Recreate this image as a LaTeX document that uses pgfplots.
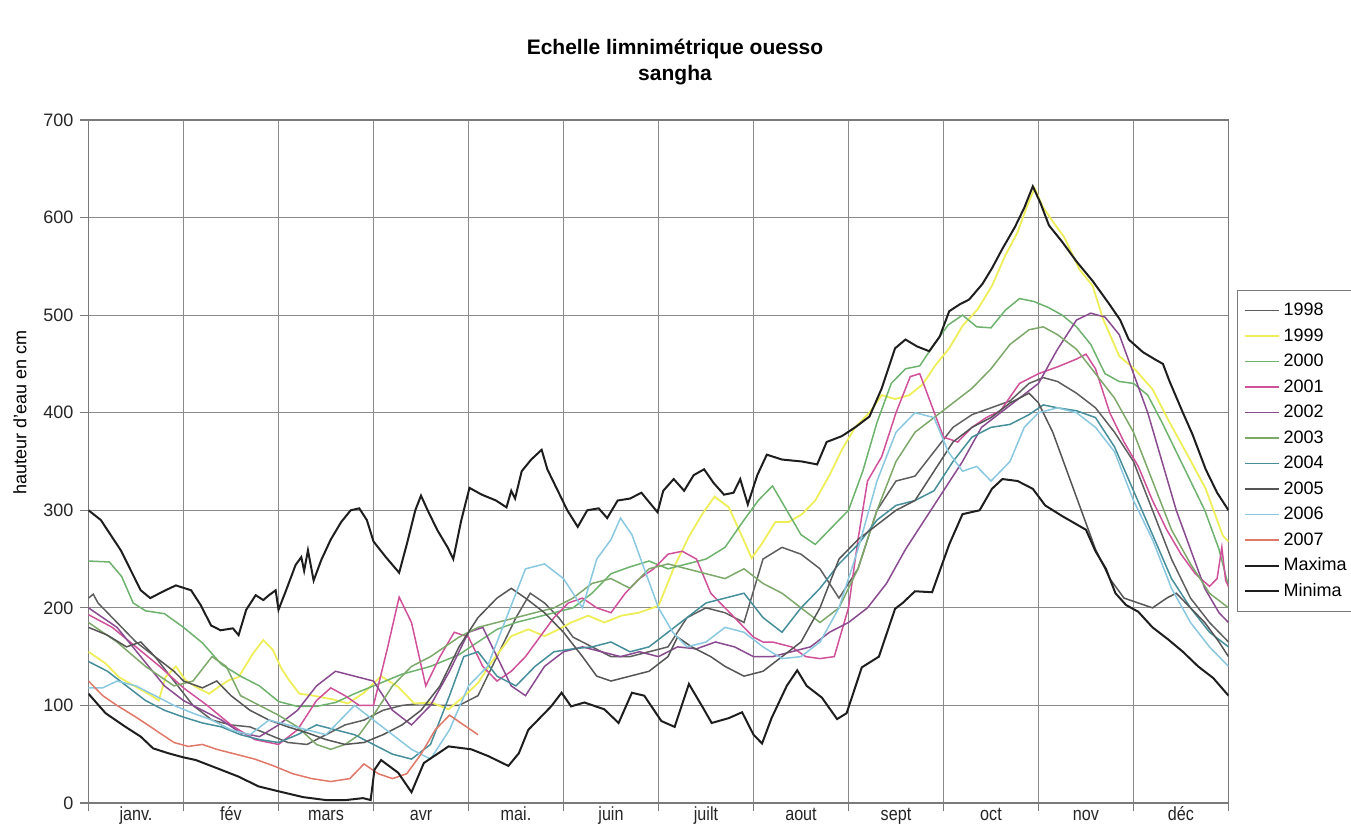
\documentclass[border=0pt]{standalone}
\usepackage{fontspec}
\setmainfont{Liberation Sans}
\newfontfamily\narrowfont[FakeStretch=0.85]{Liberation Sans}
\usepackage{pgfplots}
\pgfplotsset{compat=1.18}
\definecolor{gridgray}{HTML}{8A8A8A}
\definecolor{axisgray}{HTML}{7A7A7A}
\definecolor{c1998}{HTML}{5E5E5E}
\definecolor{c1999}{HTML}{EEEE5A}
\definecolor{c2000}{HTML}{6DB26D}
\definecolor{c2001}{HTML}{D0509A}
\definecolor{c2002}{HTML}{8A4A90}
\definecolor{c2003}{HTML}{7DA86A}
\definecolor{c2004}{HTML}{468E9A}
\definecolor{c2005}{HTML}{555555}
\definecolor{c2006}{HTML}{8AC8E0}
\definecolor{c2007}{HTML}{E07868}
\definecolor{cmax}{HTML}{1E1E1E}
\begin{document}
\begin{tikzpicture}
\path[use as bounding box] (0,0) rectangle (675.5pt,415pt);
\begin{axis}[
  at={(44.25pt,13.5pt)}, anchor=south west,
  width=570pt, height=341.5pt, scale only axis,
  xmin=0, xmax=12, ymin=0, ymax=700,
  xtick={0,1,...,12},
  xticklabels={},
  extra x ticks={0.5,1.5,...,11.5},
  extra x tick labels={janv.,fév,mars,avr,mai.,juin,juilt,aout,sept,oct,nov,déc},
  extra x tick style={grid=none, major tick length=0pt},
  ytick={0,100,...,700},
  tick align=outside,
  xtick pos=bottom, ytick pos=left,
  major tick length=4pt,
  xmajorgrids=true, ymajorgrids=true,
  major grid style={draw=gridgray, line width=0.55pt},
  axis line style={draw=axisgray, line width=0.8pt},
  tick style={draw=axisgray, line width=0.6pt},
  x tick label style={font=\narrowfont\fontsize{9.5}{11}\selectfont, text=black!85, inner sep=1.5pt, text height=7pt, text depth=2pt},
  y tick label style={font=\fontsize{9}{10}\selectfont, text=black!85},
  /pgf/number format/assume math mode=true,
  ylabel={hauteur d'eau en cm},
  ylabel style={at={(axis description cs:-0.0601,0.572)}, anchor=center, font=\fontsize{9}{10}\selectfont},
  legend style={at={(1.0075,0.751)}, anchor=north west, draw=axisgray, line width=0.5pt,
    font=\fontsize{9}{10}\selectfont, row sep=0.75pt, inner ysep=4pt,
    nodes={text height=6.5pt, text depth=1.5pt, inner sep=2pt}},
  legend cell align=left,
]
% 1998
\addplot[c1998, line width=0.75pt] coordinates {
(0,210) (0.05,214) (0.1,205) (0.3,185) (0.5,165) (0.7,150) (0.9,125) (1.1,100) (1.3,85) (1.5,80) (1.7,78) (1.9,70) (2.1,62) (2.3,60) (2.5,70) (2.7,80) (2.9,85) (3.1,95) (3.3,100) (3.5,102) (3.7,100) (3.9,100) (4.1,110) (4.3,150) (4.5,190) (4.65,215) (4.8,205) (4.95,190) (5.1,170) (5.3,160) (5.5,150) (5.7,150) (5.9,155) (6.1,160) (6.3,190) (6.5,200) (6.7,195) (6.9,185) (7.1,250) (7.3,262) (7.5,255) (7.7,240) (7.9,210) (8.1,240) (8.3,300) (8.5,330) (8.7,335) (8.9,360) (9.1,385) (9.3,398) (9.5,405) (9.7,412) (9.9,430) (10.05,436) (10.2,432) (10.4,420) (10.6,405) (10.8,380) (11.0,350) (11.2,300) (11.4,250) (11.6,210) (11.8,185) (12,165)
};
\addlegendentry{1998}
% 1999
\addplot[c1999, line width=0.9pt] coordinates {
(0,155) (0.18,143) (0.32,129) (0.50,119) (0.68,109) (0.74,105) (0.81,129) (0.92,140) (1.02,126) (1.13,119) (1.27,112) (1.37,119) (1.48,126) (1.58,129) (1.73,153) (1.84,167) (1.94,157) (2.03,138) (2.11,126) (2.22,112) (2.37,110) (2.58,106) (2.73,102) (2.90,113) (3.08,130) (3.26,119) (3.43,102) (3.61,103) (3.79,96) (3.96,110) (4.10,123) (4.24,144) (4.45,171) (4.63,178) (4.80,171) (4.95,178) (5.08,185) (5.26,192) (5.43,185) (5.61,192) (5.79,195) (6.00,202) (6.17,243) (6.32,273) (6.46,296) (6.59,314) (6.74,303) (6.88,273) (6.98,251) (7.09,266) (7.23,288) (7.37,288) (7.51,296) (7.65,310) (7.80,336) (7.93,362) (8.07,385) (8.22,400) (8.35,418) (8.49,414) (8.64,418) (8.78,429) (8.91,448) (9.06,466) (9.20,489) (9.36,506) (9.51,530) (9.65,561) (9.78,585) (9.88,612) (9.96,630) (10.04,612) (10.15,596) (10.27,580) (10.43,547) (10.57,530) (10.68,496) (10.85,458) (11.02,444) (11.20,424) (11.38,390) (11.55,360) (11.76,322) (11.94,274) (12,268)
};
\addlegendentry{1999}
% 2000
\addplot[c2000, line width=0.75pt] coordinates {
(0,248) (0.22,247) (0.35,232) (0.47,205) (0.6,197) (0.8,194) (1.0,180) (1.2,164) (1.4,142) (1.6,130) (1.8,120) (2.0,104) (2.2,99) (2.4,99) (2.6,103) (2.8,112) (3.0,120) (3.3,132) (3.6,140) (3.9,152) (4.1,165) (4.3,178) (4.5,185) (4.7,190) (4.9,195) (5.1,200) (5.3,215) (5.5,235) (5.7,242) (5.9,248) (6.1,240) (6.3,245) (6.5,250) (6.7,262) (6.9,290) (7.05,310) (7.2,325) (7.35,300) (7.5,275) (7.65,265) (7.8,280) (8.0,300) (8.15,340) (8.3,390) (8.45,430) (8.6,445) (8.75,448) (8.9,470) (9.05,490) (9.2,500) (9.35,488) (9.5,487) (9.65,505) (9.8,517) (9.95,514) (10.1,508) (10.25,500) (10.4,488) (10.55,470) (10.7,440) (10.85,432) (11.0,430) (11.15,418) (11.3,390) (11.45,360) (11.6,330) (11.75,300) (11.9,260) (12,222)
};
\addlegendentry{2000}
% 2001
\addplot[c2001, line width=0.75pt] coordinates {
(0,193) (0.25,180) (0.5,160) (0.75,140) (1.0,118) (1.25,100) (1.5,80) (1.75,65) (2.0,60) (2.2,75) (2.4,105) (2.55,118) (2.7,110) (2.85,100) (3.0,100) (3.15,160) (3.27,211) (3.4,185) (3.55,120) (3.7,150) (3.85,175) (4.0,170) (4.15,140) (4.3,125) (4.45,135) (4.6,150) (4.75,170) (4.9,190) (5.05,205) (5.2,210) (5.35,200) (5.5,195) (5.65,215) (5.8,230) (5.95,240) (6.1,255) (6.25,258) (6.4,250) (6.55,215) (6.7,200) (6.85,185) (7.0,170) (7.1,165) (7.2,165) (7.4,160) (7.55,150) (7.7,148) (7.85,150) (8.0,200) (8.1,270) (8.2,330) (8.35,355) (8.5,400) (8.65,437) (8.75,440) (8.85,414) (9.0,375) (9.15,370) (9.3,385) (9.45,395) (9.6,402) (9.8,430) (10.0,440) (10.2,447) (10.4,455) (10.5,460) (10.6,445) (10.75,400) (10.9,370) (11.05,345) (11.2,310) (11.35,280) (11.5,255) (11.65,235) (11.8,222) (11.88,230) (11.93,262) (11.97,228) (12,222)
};
\addlegendentry{2001}
% 2002
\addplot[c2002, line width=0.75pt] coordinates {
(0,200) (0.3,180) (0.55,150) (0.8,120) (1.0,105) (1.2,95) (1.4,85) (1.6,72) (1.8,68) (2.0,80) (2.2,95) (2.4,120) (2.6,135) (2.8,130) (3.0,125) (3.2,95) (3.4,80) (3.6,100) (3.8,135) (4.0,175) (4.15,180) (4.3,150) (4.45,120) (4.6,110) (4.8,140) (5.0,155) (5.2,160) (5.4,155) (5.6,150) (5.8,155) (6.0,150) (6.2,160) (6.4,158) (6.6,165) (6.8,160) (7.0,150) (7.2,150) (7.4,155) (7.6,160) (7.8,175) (8.0,185) (8.2,200) (8.4,225) (8.6,260) (8.8,290) (9.0,320) (9.2,350) (9.4,385) (9.6,400) (9.8,415) (10.0,430) (10.2,465) (10.4,495) (10.55,502) (10.7,498) (10.85,480) (11.0,440) (11.15,400) (11.3,350) (11.45,300) (11.6,260) (11.75,220) (11.9,195) (12,185)
};
\addlegendentry{2002}
% 2003
\addplot[c2003, line width=0.75pt] coordinates {
(0,185) (0.3,165) (0.6,140) (0.9,120) (1.1,125) (1.3,150) (1.45,140) (1.6,110) (1.8,100) (2.0,90) (2.2,78) (2.4,60) (2.55,55) (2.7,60) (2.85,70) (3.0,90) (3.2,120) (3.4,140) (3.6,150) (3.75,160) (3.9,170) (4.1,180) (4.3,185) (4.5,190) (4.7,195) (4.9,200) (5.1,210) (5.3,225) (5.5,230) (5.7,220) (5.9,240) (6.1,245) (6.3,240) (6.5,235) (6.7,230) (6.9,240) (7.1,225) (7.3,215) (7.5,200) (7.7,185) (7.9,200) (8.1,240) (8.3,300) (8.5,350) (8.7,380) (8.9,395) (9.1,410) (9.3,425) (9.5,445) (9.7,470) (9.9,485) (10.05,488) (10.2,480) (10.4,465) (10.6,440) (10.8,415) (11.0,380) (11.2,330) (11.4,280) (11.6,245) (11.8,215) (12,200)
};
\addlegendentry{2003}
% 2004
\addplot[c2004, line width=0.75pt] coordinates {
(0,145) (0.2,135) (0.4,120) (0.6,105) (0.8,95) (1.0,88) (1.2,82) (1.4,78) (1.6,70) (1.8,65) (2.0,62) (2.2,70) (2.4,80) (2.6,75) (2.8,70) (3.0,60) (3.2,50) (3.4,45) (3.6,60) (3.8,110) (3.95,150) (4.1,155) (4.3,130) (4.5,120) (4.7,140) (4.9,155) (5.1,158) (5.3,160) (5.5,165) (5.7,155) (5.9,160) (6.1,175) (6.3,190) (6.5,205) (6.7,210) (6.9,215) (7.1,190) (7.3,175) (7.5,200) (7.7,220) (7.9,245) (8.1,265) (8.3,290) (8.5,305) (8.7,310) (8.9,320) (9.1,350) (9.3,375) (9.5,385) (9.7,388) (9.9,398) (10.05,408) (10.2,405) (10.4,402) (10.6,395) (10.8,365) (11.0,320) (11.2,275) (11.4,230) (11.6,200) (11.8,175) (12,160)
};
\addlegendentry{2004}
% 2005
\addplot[c2005, line width=0.75pt] coordinates {
(0,180) (0.2,172) (0.4,160) (0.55,165) (0.7,150) (0.9,135) (1.0,125) (1.2,118) (1.35,125) (1.5,110) (1.7,95) (1.9,85) (2.1,78) (2.3,72) (2.5,65) (2.7,60) (2.9,62) (3.1,70) (3.3,80) (3.5,95) (3.7,120) (3.9,160) (4.1,190) (4.3,210) (4.45,220) (4.6,210) (4.8,195) (5.0,175) (5.2,150) (5.35,130) (5.5,125) (5.7,130) (5.9,135) (6.1,150) (6.2,170) (6.35,160) (6.55,150) (6.7,140) (6.9,130) (7.1,135) (7.3,150) (7.5,165) (7.7,200) (7.9,250) (8.1,270) (8.3,285) (8.5,300) (8.7,310) (8.9,340) (9.1,370) (9.3,385) (9.5,395) (9.7,410) (9.9,420) (10.0,410) (10.15,380) (10.3,340) (10.45,300) (10.6,260) (10.75,230) (10.9,210) (11.05,205) (11.2,200) (11.35,210) (11.45,215) (11.6,200) (11.75,185) (11.9,165) (12,150)
};
\addlegendentry{2005}
% 2006
\addplot[c2006, line width=0.75pt] coordinates {
(0,118) (0.15,118) (0.3,125) (0.5,120) (0.7,110) (0.9,100) (1.1,92) (1.3,85) (1.5,75) (1.7,70) (1.9,85) (2.1,80) (2.3,75) (2.5,70) (2.65,85) (2.8,100) (3.0,85) (3.2,70) (3.4,55) (3.6,45) (3.8,75) (4.0,120) (4.2,140) (4.4,190) (4.6,240) (4.8,245) (5.0,230) (5.2,200) (5.35,250) (5.5,270) (5.6,292) (5.72,275) (5.85,240) (6.0,200) (6.15,175) (6.3,160) (6.5,165) (6.7,180) (6.9,175) (7.1,160) (7.3,148) (7.5,150) (7.7,165) (7.9,200) (8.1,260) (8.3,330) (8.5,380) (8.7,400) (8.9,395) (9.05,360) (9.2,340) (9.35,345) (9.5,330) (9.7,350) (9.85,385) (10.0,400) (10.2,405) (10.4,400) (10.6,385) (10.8,360) (11.0,310) (11.2,270) (11.4,220) (11.6,185) (11.8,160) (12,140)
};
\addlegendentry{2006}
% 2007
\addplot[c2007, line width=0.75pt] coordinates {
(0,125) (0.15,110) (0.3,100) (0.5,88) (0.7,75) (0.9,62) (1.05,58) (1.2,60) (1.35,55) (1.55,50) (1.75,45) (1.95,38) (2.15,30) (2.35,25) (2.55,22) (2.75,25) (2.9,40) (3.05,30) (3.2,25) (3.35,30) (3.5,50) (3.65,75) (3.8,90) (3.95,80) (4.1,70)
};
\addlegendentry{2007}
% Maxima
\addplot[cmax, line width=1pt] coordinates {
(0,300) (0.13,290) (0.34,259) (0.55,218) (0.65,210) (0.81,218) (0.92,223) (1.08,218) (1.18,203) (1.29,182) (1.39,177) (1.52,179) (1.58,172) (1.66,198) (1.76,213) (1.84,208) (1.90,213) (1.97,218) (2.00,198) (2.08,218) (2.18,244) (2.24,252) (2.27,238) (2.31,259) (2.37,228) (2.45,249) (2.55,270) (2.66,288) (2.76,300) (2.85,302) (2.93,290) (3.00,268) (3.13,252) (3.27,236) (3.35,265) (3.44,300) (3.50,315) (3.57,300) (3.67,280) (3.78,262) (3.84,250) (3.92,288) (4.01,323) (4.14,316) (4.29,310) (4.40,303) (4.45,320) (4.49,312) (4.56,340) (4.66,352) (4.77,362) (4.83,342) (4.94,320) (5.04,300) (5.15,283) (5.25,300) (5.37,302) (5.46,292) (5.57,310) (5.70,312) (5.82,318) (5.93,305) (5.99,298) (6.05,320) (6.16,332) (6.27,320) (6.37,336) (6.48,342) (6.58,328) (6.69,316) (6.79,318) (6.86,332) (6.94,306) (7.04,336) (7.14,357) (7.30,352) (7.51,350) (7.67,347) (7.77,370) (7.93,376) (8.07,385) (8.22,396) (8.35,425) (8.49,466) (8.60,475) (8.72,468) (8.85,463) (8.96,478) (9.06,504) (9.17,511) (9.27,516) (9.41,532) (9.51,548) (9.62,568) (9.75,590) (9.85,610) (9.94,632) (10.02,615) (10.11,592) (10.25,575) (10.40,555) (10.57,535) (10.74,512) (10.86,495) (10.95,475) (11.10,462) (11.22,455) (11.31,450) (11.38,432) (11.52,400) (11.62,378) (11.76,342) (11.88,318) (12,300)
};
\addlegendentry{Maxima}
% Minima
\addplot[cmax, line width=1pt] coordinates {
(0,112) (0.18,92) (0.39,78) (0.55,68) (0.68,56) (0.84,51) (0.99,47) (1.13,44) (1.37,35) (1.58,27) (1.79,17) (2.00,12) (2.26,6) (2.50,3) (2.71,3) (2.89,5) (2.97,3) (3.01,34) (3.08,44) (3.26,31) (3.40,11) (3.53,41) (3.79,58) (4.03,55) (4.21,48) (4.42,38) (4.53,51) (4.63,75) (4.87,99) (4.98,113) (5.08,99) (5.22,103) (5.43,96) (5.58,82) (5.72,113) (5.85,110) (6.03,84) (6.17,78) (6.32,122) (6.46,99) (6.56,82) (6.74,87) (6.88,93) (7.00,70) (7.09,61) (7.19,87) (7.35,120) (7.46,136) (7.56,120) (7.72,108) (7.88,86) (7.98,92) (8.14,139) (8.32,150) (8.49,199) (8.57,205) (8.70,217) (8.88,216) (9.06,265) (9.20,296) (9.38,300) (9.51,322) (9.62,332) (9.78,330) (9.94,322) (10.07,305) (10.25,294) (10.50,280) (10.60,258) (10.71,240) (10.81,215) (10.92,203) (11.05,196) (11.20,180) (11.36,168) (11.52,155) (11.68,140) (11.84,128) (12,110)
};
\addlegendentry{Minima}
\end{axis}
\node[align=center, font=\bfseries\fontsize{10.5}{13}\selectfont] at (337.5pt,384pt) {Echelle limnimétrique ouesso\\sangha};
\end{tikzpicture}
\end{document}
